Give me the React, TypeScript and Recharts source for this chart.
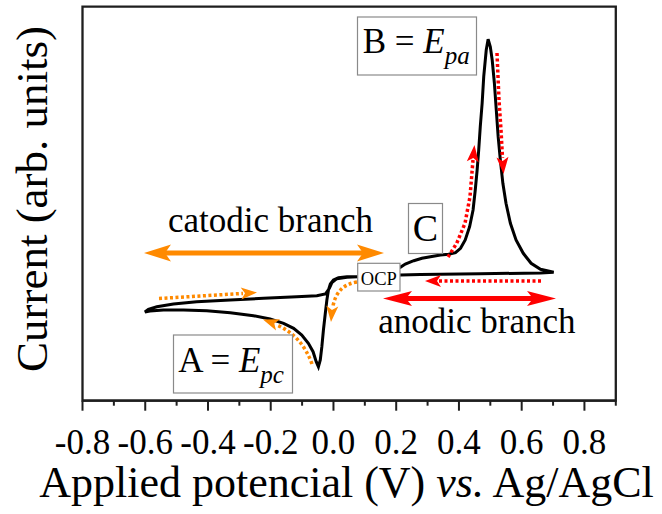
import { LineChart, Line, XAxis, YAxis, ReferenceArea } from "recharts";

// Cyclic voltammogram: cathodic loop first (OCP -> -0.6 V -> OCP),
// then the anodic loop (OCP -> 0.7 V -> OCP).
const potential = [
  0.078, 0.043, 0.016, 0.0, -0.01, -0.016, -0.021, -0.026, -0.032, -0.037,
  -0.042, -0.048, -0.055, -0.065, -0.08, -0.101, -0.127, -0.159, -0.202, -0.255,
  -0.329, -0.404, -0.478, -0.542, -0.585, -0.601, -0.59, -0.563, -0.51, -0.436,
  -0.329, -0.223, -0.117, -0.053, -0.026, -0.013, -0.005, 0.011, 0.043, 0.078,
  0.149, 0.213, 0.229, 0.256, 0.282, 0.309, 0.341, 0.367, 0.389, 0.405,
  0.42, 0.434, 0.445, 0.452, 0.458, 0.463, 0.468, 0.474, 0.479, 0.487,
  0.493, 0.5, 0.506, 0.513, 0.519, 0.525, 0.532, 0.54, 0.55, 0.564,
  0.582, 0.605, 0.63, 0.66, 0.702, 0.66, 0.468, 0.277, 0.213, 0.078,
];

const current = [
  0, 0, -0.1, -0.33, -0.73, -1.33, -2.33, -3.66, -5.33, -7.0,
  -8.33, -9.0, -8.5, -7.5, -6.66, -5.83, -5.16, -4.66, -4.23, -3.9,
  -3.6, -3.4, -3.33, -3.33, -3.43, -3.53, -3.26, -3.0, -2.73, -2.5,
  -2.33, -2.16, -2.0, -1.9, -1.73, -1.16, -0.6, -0.2, -0.06, 0,
  0.47, 0.94, 1.27, 1.6, 1.84, 2.0, 2.17, 2.24, 2.4, 2.84,
  3.67, 5.0, 6.67, 8.67, 10.67, 12.67, 15.0, 17.37, 20.0, 22.67,
  23.74, 23.0, 21.67, 19.34, 16.67, 14.0, 11.67, 9.34, 7.34, 5.34,
  3.67, 2.34, 1.34, 0.74, 0.44, 0.37, 0.3, 0.22, 0.17, 0,
];

const xDomain = [-0.8, 0.9];
const yDomain = [-12.4, 27];
const allTicks = [
  -0.8, -0.7, -0.6, -0.5, -0.4, -0.3, -0.2, -0.1, 0, 0.1, 0.2, 0.3, 0.4, 0.5,
  0.6, 0.7, 0.8, 0.9,
];
const majorTicks = [-0.8, -0.6, -0.4, -0.2, 0, 0.2, 0.4, 0.6, 0.8];
const tickLabels = ["-0.8", "-0.6", "-0.4", "-0.2", "0.0", "0.2", "0.4", "0.6", "0.8"];

const data = potential.map((v, i) => ({ v, i: current[i] }));

const SERIF = "'Liberation Serif', 'Times New Roman', serif";
const FRAME = "#1e1e1e";
const ORANGE = "#ff8a00";
const RED = "#ff0000";

function PotentialTick(props: any) {
  const { x, y, payload } = props;
  const k = majorTicks.findIndex((t) => Math.abs(t - payload.value) < 1e-6);
  const major = k >= 0;
  return (
    <g>
      <line x1={x} x2={x} y1={y} y2={y + (major ? 10 : 5)} stroke={FRAME} strokeWidth={2} />
      {major && (
        <text x={x} y={y + 53} textAnchor="middle" fontFamily={SERIF} fontSize={35} fill="#000">
          {tickLabels[k]}
        </text>
      )}
    </g>
  );
}

// arrowhead polygon: tip, back corners and a notch on the axis
function head(tx: number, ty: number, dx: number, dy: number, len: number, half: number, notch: number) {
  const n = Math.hypot(dx, dy);
  const ux = dx / n;
  const uy = dy / n;
  const px = -uy;
  const py = ux;
  const bx = tx - ux * len;
  const by = ty - uy * len;
  const nx = tx - ux * (len - notch);
  const ny = ty - uy * (len - notch);
  return `${tx},${ty} ${bx + px * half},${by + py * half} ${nx},${ny} ${bx - px * half},${by - py * half}`;
}

function LabelBox({ x, y, w, h }: { x: number; y: number; w: number; h: number }) {
  return <rect x={x} y={y} width={w} height={h} fill="#fff" stroke="#8a8a8a" strokeWidth={1.2} />;
}

function Annotations() {
  const dot = { fill: "none", strokeWidth: 3.5, strokeDasharray: "3 2.5" };
  return (
    <svg
      width={662}
      height={514}
      style={{ position: "absolute", left: 0, top: 0, pointerEvents: "none" }}
    >
      {/* branch arrows */}
      <line x1={162} y1={253} x2={366} y2={253} stroke={ORANGE} strokeWidth={5} />
      <polygon points={head(144, 253, -1, 0, 27, 8.5, 6)} fill={ORANGE} />
      <polygon points={head(384, 253, 1, 0, 27, 8.5, 6)} fill={ORANGE} />
      <line x1={400} y1={298.5} x2={539} y2={298.5} stroke={RED} strokeWidth={5} />
      <polygon points={head(383, 298.5, -1, 0, 29, 7.5, 6)} fill={RED} />
      <polygon points={head(556, 298.5, 1, 0, 29, 7.5, 6)} fill={RED} />

      {/* scan direction, cathodic */}
      <path d="M159 298.5 L243 293.4" stroke={ORANGE} {...dot} />
      <polygon points={head(257, 292.5, 1, -0.06, 16, 6, 4)} fill={ORANGE} />
      <path d="M357 282 Q337 285 333 306" stroke={ORANGE} {...dot} />
      <polygon points={head(331, 322, -0.08, 1, 16, 6, 4)} fill={ORANGE} />
      <path d="M312 364 Q302 336 277 325" stroke={ORANGE} {...dot} />
      <polygon points={head(263, 319.5, -14, -5, 16, 6, 4)} fill={ORANGE} />

      {/* scan direction, anodic */}
      <path d="M541 281 L439 281" stroke={RED} {...dot} />
      <polygon points={head(425, 281, -1, 0, 16, 6, 4)} fill={RED} />
      <path d="M448 257 L456.7 243.3 L465 223.3 L470 196.7 L473 160" stroke={RED} {...dot} />
      <polygon points={head(474.5, 145, 0.1, -1, 17, 6, 4)} fill={RED} />
      <path d="M497 53 L499 100 L501 130 L502.5 158" stroke={RED} {...dot} />
      <polygon points={head(503.5, 174, 0.06, 1, 17, 6, 4)} fill={RED} />

      {/* labels */}
      <text x={270.5} y={232.3} textAnchor="middle" fontFamily={SERIF} fontSize={35}>
        catodic branch
      </text>
      <text x={378.3} y={333.3} fontFamily={SERIF} fontSize={35}>
        anodic branch
      </text>

      <LabelBox x={357.5} y={17} w={119} h={58} />
      <text x={362.7} y={53.3} fontFamily={SERIF} fontSize={35}>
        B = <tspan fontStyle="italic">E</tspan>
        <tspan fontStyle="italic" fontSize={25} dy={11}>pa</tspan>
      </text>

      <LabelBox x={173.5} y={335} w={119} h={58} />
      <text x={178.3} y={372.3} fontFamily={SERIF} fontSize={35}>
        A = <tspan fontStyle="italic">E</tspan>
        <tspan fontStyle="italic" fontSize={25} dy={11}>pc</tspan>
      </text>

      <LabelBox x={408.5} y={203.5} w={34} h={50} />
      <text x={425.5} y={241} textAnchor="middle" fontFamily={SERIF} fontSize={38}>
        C
      </text>

      <LabelBox x={357.7} y={263.3} w={42.3} h={27.7} />
      <text x={378.8} y={285} textAnchor="middle" fontFamily={SERIF} fontSize={18.5}>
        OCP
      </text>

      {/* axis titles */}
      <text
        x={47}
        y={199}
        transform="rotate(-90, 47, 199)"
        textAnchor="middle"
        fontFamily={SERIF}
        fontSize={45}
      >
        Current (arb. units)
      </text>
      <text x={346.5} y={497} textAnchor="middle" fontFamily={SERIF} fontSize={44}>
        Applied potencial (V) <tspan fontStyle="italic">vs.</tspan> Ag/AgCl
      </text>
    </svg>
  );
}

export default function App() {
  return (
    <div style={{ position: "absolute", left: 0, top: 0, width: 662, height: 514, background: "#fff" }}>
      <LineChart
        width={662}
        height={514}
        data={data}
        margin={{ top: 6.7, right: 46.2, bottom: 13.3, left: 82.5 }}
      >
        <XAxis
          dataKey="v"
          type="number"
          domain={xDomain}
          ticks={allTicks}
          interval={0}
          height={100}
          tickSize={0}
          tickMargin={0}
          tickLine={false}
          axisLine={{ stroke: FRAME, strokeWidth: 2.3 }}
          tick={<PotentialTick />}
        />
        <YAxis type="number" domain={yDomain} hide />
        {/* plot frame */}
        <ReferenceArea
          x1={xDomain[0]}
          x2={xDomain[1]}
          y1={yDomain[0]}
          y2={yDomain[1]}
          fill="none"
          fillOpacity={0}
          stroke={FRAME}
          strokeWidth={2.3}
          ifOverflow="visible"
        />
        <Line
          dataKey="i"
          type="linear"
          stroke="#000"
          strokeWidth={3}
          dot={false}
          isAnimationActive={false}
        />
      </LineChart>
      <Annotations />
    </div>
  );
}
